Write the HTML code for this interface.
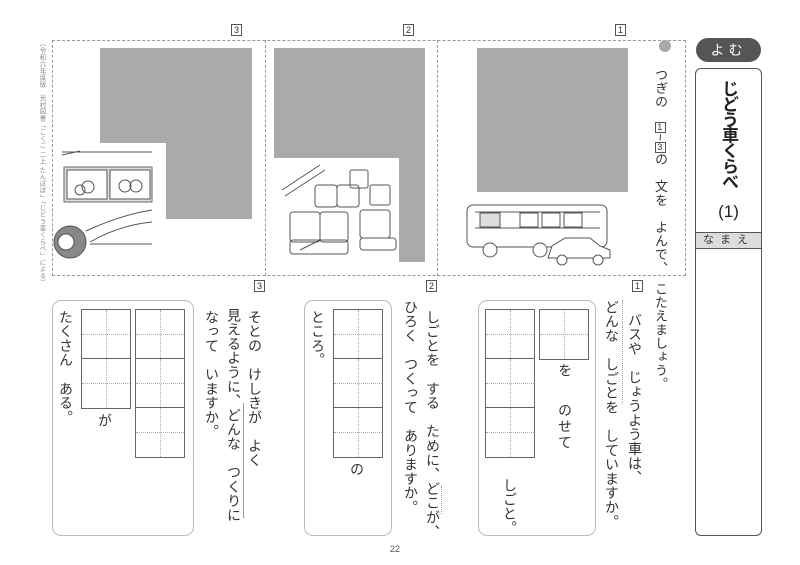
<!DOCTYPE html>
<html><head><meta charset="utf-8"><style>
*{margin:0;padding:0;box-sizing:border-box}
body{width:800px;height:565px;background:#fff;position:relative;overflow:hidden;font-family:"Liberation Sans","Noto Sans CJK JP",sans-serif;color:#333}
.a{position:absolute}
.v{position:absolute;writing-mode:vertical-rl;white-space:nowrap;font-size:14px;line-height:14px;letter-spacing:0.3px;color:#333}
.g{background:#aaa;position:absolute}
.bx{display:inline-block;border:1px solid #555;font-size:9px;line-height:9px;width:11px;height:11px;text-align:center;writing-mode:horizontal-tb;color:#333}
.lbl{position:absolute;border:1px solid #555;font-size:9px;line-height:10px;width:11px;height:12px;text-align:center}
.grid{position:absolute;border:1px solid #666;width:50px}
.cell{height:49px;border-bottom:1px solid #666;position:relative}
.cell:last-child{border-bottom:none}
.cell:before{content:"";position:absolute;left:24px;top:0;bottom:0;border-left:1px dotted #aaa}
.cell:after{content:"";position:absolute;top:24px;left:0;right:0;border-top:1px dotted #aaa}
.ab{position:absolute;border:1px solid #bbb;border-radius:9px}
</style></head><body>
<div class="a" style="left:52px;top:40px;width:634px;height:236px;border:1px dashed #999"></div>
<div class="a" style="left:265px;top:40px;height:236px;border-left:1px dashed #999"></div>
<div class="a" style="left:437px;top:40px;height:236px;border-left:1px dashed #999"></div>
<div class="lbl" style="left:231px;top:24px">3</div>
<div class="lbl" style="left:403px;top:24px">2</div>
<div class="lbl" style="left:615px;top:24px">1</div>
<div class="g" style="left:477px;top:48px;width:151px;height:144px"></div>
<div class="g" style="left:274px;top:48px;width:151px;height:110px"></div>
<div class="g" style="left:399px;top:158px;width:26px;height:104px"></div>
<div class="g" style="left:100px;top:48px;width:152px;height:95px"></div>
<div class="g" style="left:166px;top:143px;width:86px;height:76px"></div>
<svg class="a" style="left:0;top:0" width="800" height="565" fill="none" stroke="#555" stroke-width="1">
 <path d="M62 152 H152 M62 155 L80 151"/>
 <rect x="64" y="167" width="88" height="35" fill="#ddd" stroke="#666"/>
 <rect x="67" y="170" width="40" height="29" fill="#fff"/>
 <rect x="110" y="170" width="40" height="29" fill="#fff"/>
 <circle cx="88" cy="187" r="6"/><circle cx="80" cy="190" r="5"/><circle cx="125" cy="186" r="6"/><circle cx="136" cy="186" r="6"/>
 <path d="M86 231 Q120 215 152 210 M90 242 Q120 225 152 222 M90 244 H152"/>
 <circle cx="70" cy="242" r="16" fill="#888"/><circle cx="66" cy="242" r="8" fill="#fff"/>
 <path d="M282 190 L320 165 M285 196 L325 170 M300 250 L320 240"/>
 <rect x="290" y="212" width="30" height="30" rx="3"/><rect x="320" y="212" width="28" height="30" rx="3"/>
 <rect x="290" y="240" width="58" height="14" rx="3"/>
 <rect x="315" y="185" width="22" height="22" rx="3"/><rect x="337" y="185" width="22" height="22" rx="3"/>
 <rect x="350" y="170" width="18" height="18" rx="2"/>
 <rect x="360" y="210" width="30" height="28" rx="3"/><rect x="360" y="238" width="36" height="12" rx="3"/>
 <rect x="370" y="185" width="20" height="20" rx="2"/>
 <rect x="467" y="205" width="140" height="42" rx="6"/>
 <path d="M475 212 H600 M475 228 H600"/>
 <rect x="480" y="213" width="20" height="14" fill="#ddd"/><rect x="520" y="213" width="18" height="14"/><rect x="542" y="213" width="18" height="14"/><rect x="564" y="213" width="18" height="14"/>
 <circle cx="490" cy="250" r="7" fill="#fff"/><circle cx="540" cy="250" r="7" fill="#fff"/>
 <path d="M548 258 L552 246 L565 238 H590 L600 246 L610 250 V258 Z" fill="#fff"/>
 <circle cx="562" cy="260" r="5" fill="#fff"/><circle cx="598" cy="260" r="5" fill="#fff"/>
</svg>
<div class="v" style="left:38px;top:40px;font-size:6.5px;line-height:7px;color:#888">（令和六年度版　光村図書「こくご 二上 たんぽぽ」「じどう車くらべ」による）</div>
<div class="a" style="left:659px;top:40px;width:12px;height:12px;border-radius:50%;background:#aaa"></div>
<div class="v" style="left:654px;top:68px;font-size:13px;line-height:13px;letter-spacing:0.6px">つぎの　<span class="bx">1</span>~<span class="bx">3</span>の　文を　よんで、　こたえましょう。</div>
<div class="a" style="left:696px;top:38px;width:65px;height:24px;border-radius:12px;background:#555;color:#fff;font-size:14px;line-height:24px;text-align:center;letter-spacing:4px">よむ</div>
<div class="a" style="left:695px;top:68px;width:67px;height:468px;border:1.5px solid #555;border-radius:6px"></div>
<div class="v" style="left:719px;top:80px;font-size:17px;line-height:18px;font-weight:bold;color:#222;letter-spacing:-1.5px">じどう車くらべ</div>
<div class="a" style="left:696px;top:202px;width:65px;text-align:center;font-size:17px;color:#222;writing-mode:horizontal-tb">(1)</div>
<div class="a" style="left:696px;top:232px;width:65px;height:17px;background:#ddd;border-top:1px solid #555;border-bottom:1px solid #555;font-size:11px;line-height:15px;text-align:center;letter-spacing:6px">なまえ</div>
<div class="lbl" style="left:632px;top:280px">1</div>
<div class="v" style="left:628px;top:313px">バスや　じょうよう車は、</div>
<div class="v" style="left:605px;top:300px">どんな　しごとを　していますか。</div>
<div class="a" style="left:622px;top:300px;height:104px;border-left:1px dotted #999"></div>
<div class="ab" style="left:478px;top:300px;width:118px;height:236px"></div>
<div class="grid" style="left:539px;top:309px"><div class="cell"></div></div>
<div class="grid" style="left:485px;top:309px"><div class="cell"></div><div class="cell"></div><div class="cell"></div></div>
<div class="v" style="left:558px;top:363px">を</div>
<div class="v" style="left:558px;top:403px;letter-spacing:2px">のせて</div>
<div class="v" style="left:503px;top:478px">しごと。</div>
<div class="lbl" style="left:426px;top:280px">2</div>
<div class="v" style="left:426px;top:310px">しごとを　する　ために、どこが、</div>
<div class="v" style="left:404px;top:300px">ひろく　つくって　ありますか。</div>
<div class="a" style="left:441px;top:486px;height:28px;border-left:1px dotted #999"></div>
<div class="ab" style="left:304px;top:300px;width:88px;height:236px"></div>
<div class="grid" style="left:333px;top:309px"><div class="cell"></div><div class="cell"></div><div class="cell"></div></div>
<div class="v" style="left:311px;top:310px">ところ。</div>
<div class="v" style="left:350px;top:462px">の</div>
<div class="lbl" style="left:254px;top:280px">3</div>
<div class="v" style="left:248px;top:310px">そとの　けしきが　よく</div>
<div class="v" style="left:227px;top:308px">見えるように、どんな　つくりに</div>
<div class="v" style="left:205px;top:310px">なって　いますか。</div>
<div class="a" style="left:243px;top:403px;height:115px;border-left:1px solid #999"></div>
<div class="ab" style="left:52px;top:300px;width:142px;height:236px"></div>
<div class="grid" style="left:135px;top:309px"><div class="cell"></div><div class="cell"></div><div class="cell"></div></div>
<div class="grid" style="left:81px;top:309px"><div class="cell"></div><div class="cell"></div></div>
<div class="v" style="left:59px;top:310px">たくさん　ある。</div>
<div class="v" style="left:98px;top:413px">が</div>
<div class="a" style="left:390px;top:544px;font-size:9px;color:#555">22</div>
</body></html>
